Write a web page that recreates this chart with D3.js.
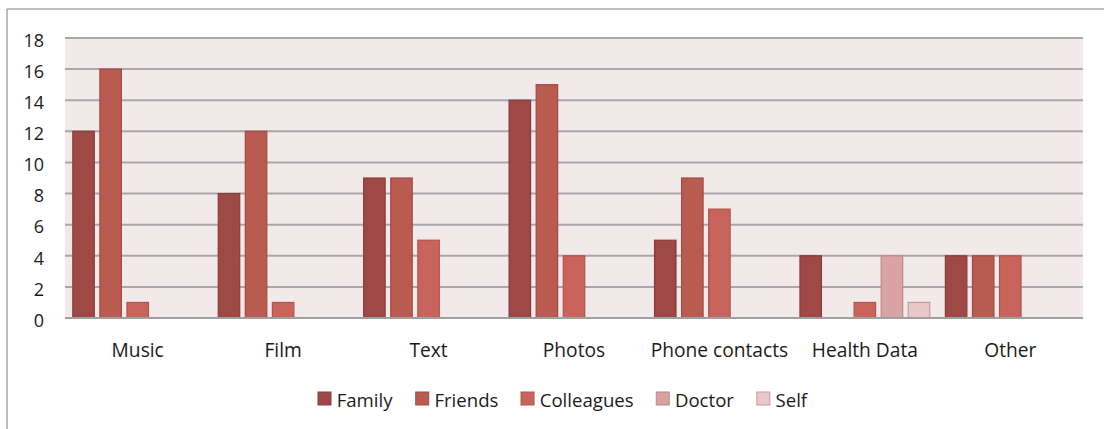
<!DOCTYPE html>
<html>
<head>
<meta charset="utf-8">
<script src="https://cdn.jsdelivr.net/npm/d3@7"></script>
<style>
  html, body { margin: 0; padding: 0; background: #ffffff; }
  svg { display: block; }
  text { font-family: "Open Sans", "Noto Sans", sans-serif; fill: #1a1a1a; }
</style>
</head>
<body>
<svg id="chart" width="1104" height="429"></svg>
<script>
// Categories and series (number of mentions per data type and recipient)
const categories = ["Music", "Film", "Text", "Photos", "Phone contacts", "Health Data", "Other"];
const seriesNames = ["Family", "Friends", "Colleagues", "Doctor", "Self"];
const family     = [12, 8, 9, 14, 5, 4, 4];
const friends    = [16, 12, 9, 15, 9, 0, 4];
const colleagues = [1, 1, 5, 4, 7, 1, 4];
const doctor     = [0, 0, 0, 0, 0, 4, 0];
const self       = [0, 0, 0, 0, 0, 1, 0];
const yTicks = [0, 2, 4, 6, 8, 10, 12, 14, 16, 18];

const seriesValues = [family, friends, colleagues, doctor, self];
const fills   = ["#9e4946", "#b95b51", "#c9645c", "#d8a3a3", "#e8c8c8"];
const strokes = ["#8a3c3a", "#a34a43", "#b4534c", "#c28686", "#c99c9c"];

const svg = d3.select("#chart");
const W = 1104, H = 429;

// Outer frame (top and left edges visible)
svg.append("line").attr("x1", 7).attr("x2", W).attr("y1", 9).attr("y2", 9)
  .attr("stroke", "#a6a6a6").attr("stroke-width", 1.5);
svg.append("line").attr("x1", 7).attr("x2", 7).attr("y1", 9).attr("y2", H)
  .attr("stroke", "#a6a6a6").attr("stroke-width", 1.5);

const plot = { left: 65, right: 1083, top: 38, bottom: 318 };

const x0 = d3.scaleBand().domain(categories).range([plot.left, plot.right]);
const x1 = d3.scaleBand().domain(seriesNames).range([0, x0.bandwidth()])
  .paddingInner(0.17).paddingOuter(0.27);
const y = d3.scaleLinear().domain([0, 18]).range([plot.bottom, plot.top]);

// Plot background
svg.append("rect")
  .attr("x", plot.left).attr("y", plot.top)
  .attr("width", plot.right - plot.left).attr("height", plot.bottom - plot.top)
  .attr("fill", "#f2e9ea");

// Horizontal gridlines
svg.append("g").selectAll("line").data(yTicks).join("line")
  .attr("x1", plot.left).attr("x2", plot.right)
  .attr("y1", d => y(d)).attr("y2", d => y(d))
  .attr("stroke", "#a8a8a8").attr("stroke-width", 2);

// Y axis labels
const yAxis = d3.axisLeft(y).tickValues(yTicks).tickSize(0).tickPadding(0);
const gy = svg.append("g").attr("transform", `translate(44,2.5)`).call(yAxis);
gy.select(".domain").remove();
gy.selectAll("text").attr("font-size", 18).attr("font-family", "'Open Sans', sans-serif").attr("fill", "#1a1a1a");

// Bars
const groups = svg.append("g").selectAll("g").data(categories).join("g")
  .attr("transform", d => `translate(${x0(d)},0)`);
groups.selectAll("rect")
  .data((c, ci) => seriesNames.map((s, si) => ({ s, si, v: seriesValues[si][ci] })).filter(d => d.v > 0))
  .join("rect")
  .attr("x", d => x1(d.s) + 0.5)
  .attr("width", x1.bandwidth() - 1)
  .attr("y", d => y(d.v))
  .attr("height", d => y(0) - y(d.v))
  .attr("fill", d => fills[d.si])
  .attr("stroke", d => strokes[d.si])
  .attr("stroke-width", 1.2);

// X axis baseline
svg.append("line").attr("x1", plot.left).attr("x2", plot.right)
  .attr("y1", y(0)).attr("y2", y(0))
  .attr("stroke", "#a0a0a0").attr("stroke-width", 2);

// Category labels
const xAxis = d3.axisBottom(x0).tickSize(0).tickPadding(0);
const gx = svg.append("g").attr("transform", `translate(0,356.5)`).call(xAxis);
gx.select(".domain").remove();
gx.selectAll("text").attr("font-size", 19.2).attr("font-family", "'Open Sans', sans-serif")
  .attr("fill", "#1a1a1a").attr("y", 0).attr("dy", 0);

// Legend
const legend = svg.append("g");
const items = legend.selectAll("g").data(seriesNames).join("g");
items.append("rect").attr("width", 13).attr("height", 13).attr("y", -14.5)
  .attr("fill", (d, i) => fills[i]).attr("stroke", (d, i) => strokes[i]).attr("stroke-width", 1);
items.append("text").attr("x", 18.7).attr("y", 0)
  .attr("font-size", 18.6).text(d => d);
let cx = 0;
items.each(function () {
  const w = this.getBBox().width;
  d3.select(this).attr("transform", `translate(${cx},0)`);
  cx += w + 22.5;
});
legend.attr("transform", `translate(318,406.5)`);
</script>
</body>
</html>
